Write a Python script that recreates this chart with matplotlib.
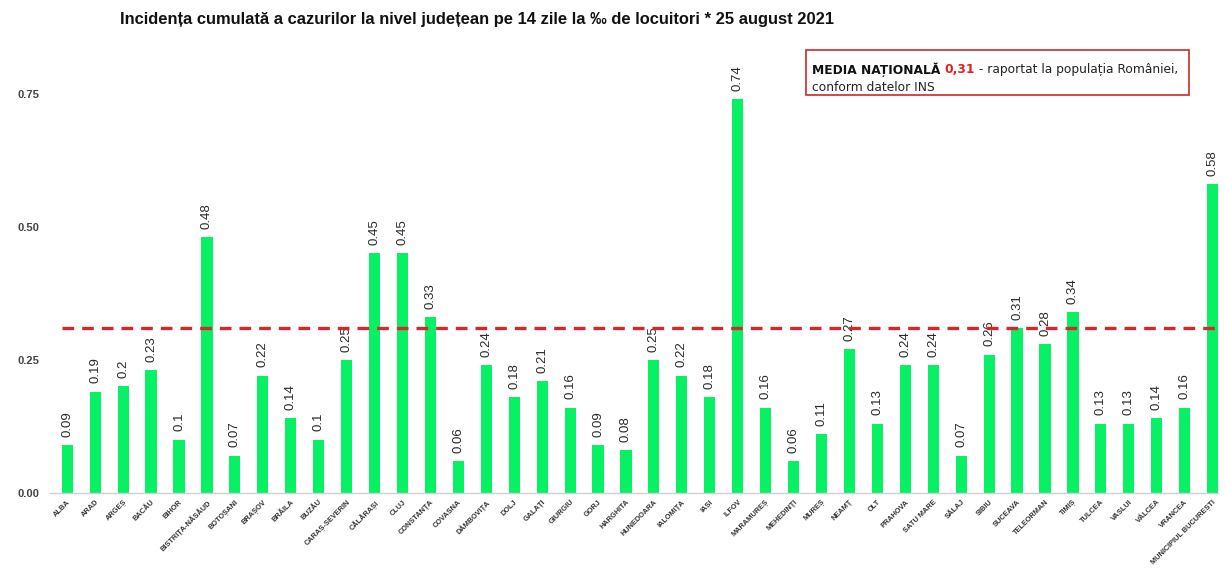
import numpy as np
import matplotlib
matplotlib.use("Agg")
from matplotlib import pyplot as plt
from matplotlib.patches import Rectangle

# judete
judete = ["ALBA", "ARAD", "ARGEȘ", "BACĂU", "BIHOR", "BISTRIȚA-NĂSĂUD", "BOTOȘANI",
          "BRAȘOV", "BRĂILA", "BUZĂU", "CARAȘ-SEVERIN", "CĂLĂRAȘI", "CLUJ", "CONSTANȚA",
          "COVASNA", "DÂMBOVIȚA", "DOLJ", "GALAȚI", "GIURGIU", "GORJ", "HARGHITA",
          "HUNEDOARA", "IALOMIȚA", "IAȘI", "ILFOV", "MARAMUREȘ", "MEHEDINȚI", "MUREȘ",
          "NEAMȚ", "OLT", "PRAHOVA", "SATU MARE", "SĂLAJ", "SIBIU", "SUCEAVA",
          "TELEORMAN", "TIMIȘ", "TULCEA", "VASLUI", "VÂLCEA", "VRANCEA",
          "MUNICIPIUL BUCUREȘTI"]
# incidenta la mia de locuitori
incidenta = [0.09, 0.19, 0.2, 0.23, 0.1, 0.48, 0.07, 0.22, 0.14, 0.1, 0.25, 0.45,
             0.45, 0.33, 0.06, 0.24, 0.18, 0.21, 0.16, 0.09, 0.08, 0.25, 0.22, 0.18,
             0.74, 0.16, 0.06, 0.11, 0.27, 0.13, 0.24, 0.24, 0.07, 0.26, 0.31, 0.28,
             0.34, 0.13, 0.13, 0.14, 0.16, 0.58]
media = 0.31
y_ticks = [0.0, 0.25, 0.5, 0.75]

plt.rcParams["font.family"] = ["Liberation Sans", "DejaVu Sans"]
box_font = ["DejaVu Sans"]

fig = plt.figure(figsize=(12.25, 5.84), dpi=100)
ax = fig.add_axes([0.041, 0.156, 0.953, 0.729])

x = np.arange(len(judete))
ax.bar(x, incidenta, width=0.4, color="#08f064")

# etichete valori
for xi, v in zip(x, incidenta):
    ax.annotate(f"{v:g}", xy=(xi, v), xytext=(0, 6), textcoords="offset points",
                rotation=90, ha="center", va="bottom", fontsize=9.5,
                color="#2a2a2a")

# media nationala
ax.hlines(media, -0.2, len(judete) - 0.8, colors="#d9262b", linewidth=2.4,
          linestyles=(0, (3.5, 2.4)), zorder=3)

ax.set_xlim(-0.61, len(judete) - 0.82)
ax.set_ylim(0, 0.8)
ax.set_yticks(y_ticks)
ax.set_yticklabels([f"{t:.2f}" for t in y_ticks], fontsize=8, fontweight="bold",
                   color="#444444")
ax.set_xticks(x)
ax.set_xticklabels(judete, rotation=45, ha="right", rotation_mode="anchor",
                   fontsize=5.3, fontweight="bold", color="#333333")
ax.tick_params(axis="both", length=0)
ax.tick_params(axis="y", pad=8)
ax.tick_params(axis="x", pad=4)
for s in ["top", "right", "left"]:
    ax.spines[s].set_visible(False)
ax.spines["bottom"].set_color("#d0d0d0")
ax.spines["bottom"].set_linewidth(1)

fig.text(0.098, 0.966,
         "Incidența cumulată a cazurilor la nivel județean pe 14 zile la ‰ de locuitori * 25 august 2021",
         fontsize=11.9, fontweight="bold", color="#111111", va="center")

# caseta media nationala
fig.patches.append(Rectangle((0.658, 0.837), 0.313, 0.077, transform=fig.transFigure,
                             fill=False, edgecolor="#cc2a2a", linewidth=1.2))
t1 = fig.text(0.663, 0.881, "MEDIA NAȚIONALĂ ", fontsize=8.8, fontweight="bold",
              color="#111111", va="center", family=box_font)
t2 = fig.text(0, 0, "0,31", fontsize=8.8, fontweight="bold", color="#e3201b",
              va="center", family=box_font)
fig.canvas.draw()
r = fig.canvas.get_renderer()
W = fig.bbox.width
bb = t1.get_window_extent(r)
t2.set_position((bb.x1 / W, 0.881))
fig.canvas.draw()
bb2 = t2.get_window_extent(r)
fig.text(bb2.x1 / W, 0.881, " - raportat la populația României,", fontsize=8.8,
         color="#222222", va="center", family=box_font)
fig.text(0.663, 0.851, "conform datelor INS", fontsize=8.8, color="#222222",
         va="center", family=box_font)

plt.savefig("out.png", dpi=100)
